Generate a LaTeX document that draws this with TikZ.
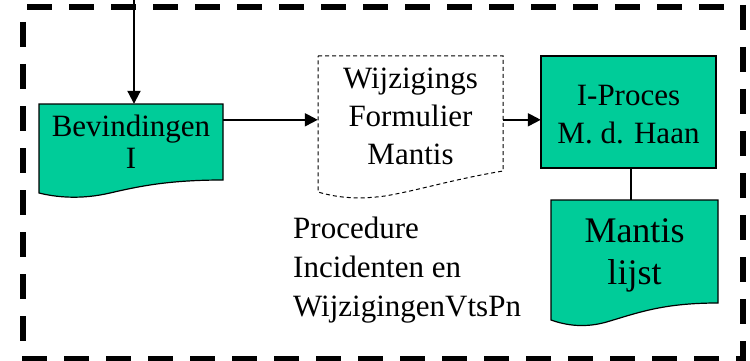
\documentclass[tikz,border=0pt]{standalone}
\usepackage{fontspec}
\setmainfont{Liberation Serif}
\usetikzlibrary{arrows.meta}
\definecolor{teal1}{HTML}{00CC99}
\tikzset{
  frame/.style={line width=6pt, dash pattern=on 25pt off 17pt},
  box/.style={draw=none, minimum width=#1, inner sep=0pt, align=center,
    font=\fontsize{31}{38}\selectfont},
  shp/.style={draw=black, line width=1.2pt, fill=teal1},
  dshp/.style={draw=black, line width=1pt, dash pattern=on 4pt off 3pt},
  arr/.style={line width=2pt, -{Triangle[length=13pt,width=13pt]}},
  con/.style={line width=1.5pt}
}
\begin{document}
\begin{tikzpicture}[x=1pt,y=-1pt]
\useasboundingbox (0,0) rectangle (750,361);
% frame
\draw[frame] (27,7) -- (725,7);
\draw[frame] (23,22) -- (23,342);
\draw[frame] (22,359) -- (742,359);
\draw[frame] (743,5) -- (743,361);
% shapes
\draw[shp] (39,104) -- (223,104) -- (223,180) .. controls (170,180) and (140,186) .. (110,193) .. controls (80,200) and (55,197) .. (39,193) -- cycle;
\draw[dshp] (318,56) -- (503,56) -- (503,171) .. controls (450,180) and (420,190) .. (385,196) .. controls (355,200) and (335,197) .. (318,192) -- cycle;
\draw[shp] (541,56) rectangle (716,168);
\draw[shp] (551,200) -- (718,200) -- (718,303) .. controls (665,303) and (640,312) .. (610,321) .. controls (585,329) and (565,325) .. (551,320) -- cycle;
% nodes
\node[box=184, minimum height=76] (bev) at (131,142) {\raisebox{-2pt}{\shortstack{Bevindingen\\[2pt]I}}};
\node[box=185, minimum height=115] (wij) at (410.5,113.5) {};
\node[box=185, anchor=center] (wijt) at (410.5,116.5) {Wijzigings\\Formulier\\Mantis};
\node[box=175, minimum height=112] (ipr) at (628.5,112) {};
\node[box=175] (iprt) at (628.5,115) {I-Proces\\M. d. Haan};
\node[box=167, minimum height=103] (man) at (634.5,251.5) {};
\node[box=167, font=\fontsize{36}{42}\selectfont] (mant) at (634.5,255.5) {Mantis\\lijst};
\node[anchor=west, inner sep=0pt, align=left, font=\fontsize{31}{39}\selectfont] (proc) at (293,270.5) {Procedure\\Incidenten en\\WijzigingenVtsPn};
% connectors
\coordinate (top) at (134,0);
\draw[arr] (top) -- (top |- bev.north);
\coordinate (a1) at ([yshift=-16pt]bev.north east);
\draw[arr] (a1) -- (a1 -| wij.west);
\coordinate (a2) at ([yshift=-64pt]wij.north east);
\draw[arr] (a2) -- (a2 -| ipr.west);
\coordinate (c1) at ([xshift=2.5pt]ipr.south);
\draw[con] (c1) -- (c1 |- man.north);
\end{tikzpicture}
\end{document}
